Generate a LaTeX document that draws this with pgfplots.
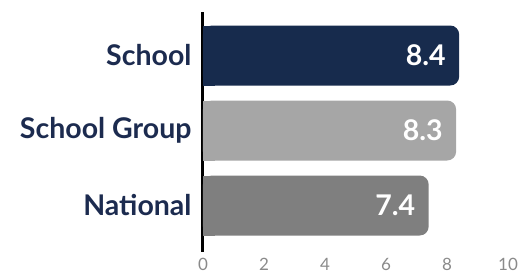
\documentclass[border=0pt]{standalone}
\usepackage{pgfplots}
\pgfplotsset{compat=1.18}
\usepackage{fontspec}
\setmainfont{Lato}
\definecolor{navy}{HTML}{172B4D}
\definecolor{lgray}{HTML}{A6A6A6}
\definecolor{dgray}{HTML}{7F7F7F}
\definecolor{tickgray}{HTML}{8A8A8A}
\definecolor{labnavy}{HTML}{1C2B4F}
\begin{document}
\begin{tikzpicture}
\begin{axis}[
 name=ax,
 scale only axis, width=305pt, height=240pt,
 xmin=0, xmax=10, ymin=-0.58, ymax=2.62, y dir=reverse,
 xbar, bar width=60pt, bar shift=0pt,
 axis lines*=left,
 x axis line style={draw=none},
 y axis line style={black, line width=3pt},
 xtick={0,2,...,10}, ytick={0,1,2},
 yticklabels={School, School Group, National},
 major tick length=0pt,
 xticklabel style={font=\fontsize{17}{20}\selectfont, text=tickgray, yshift=-3pt},
 yticklabel style={font=\bfseries\fontsize{28.5}{33}\selectfont, text=labnavy, xshift=-8pt},
 /pgf/number format/assume math mode=true,
 /pgf/number format/fixed, /pgf/number format/precision=1,
 every node near coord/.append style={anchor=east, xshift=-10pt, text=white, font=\bfseries\fontsize{28.5}{33}\selectfont},
 clip=false,
]
 \addplot[fill=navy, draw=none, x filter/.expression={min(x,0.4)}] coordinates {(8.4,0)};
 \addplot[fill=navy, draw=none, rounded corners=9pt, nodes near coords] coordinates {(8.4,0)};
 \addplot[fill=lgray, draw=none, x filter/.expression={min(x,0.4)}] coordinates {(8.3,1)};
 \addplot[fill=lgray, draw=none, rounded corners=9pt, nodes near coords] coordinates {(8.3,1)};
 \addplot[fill=dgray, draw=none, x filter/.expression={min(x,0.4)}] coordinates {(7.4,2)};
 \addplot[fill=dgray, draw=none, rounded corners=9pt, nodes near coords] coordinates {(7.4,2)};
\end{axis}
\pgfresetboundingbox
\path ([xshift=-203pt,yshift=-25pt]ax.south west) rectangle ([xshift=11pt,yshift=12pt]ax.north east);
\end{tikzpicture}
\end{document}
